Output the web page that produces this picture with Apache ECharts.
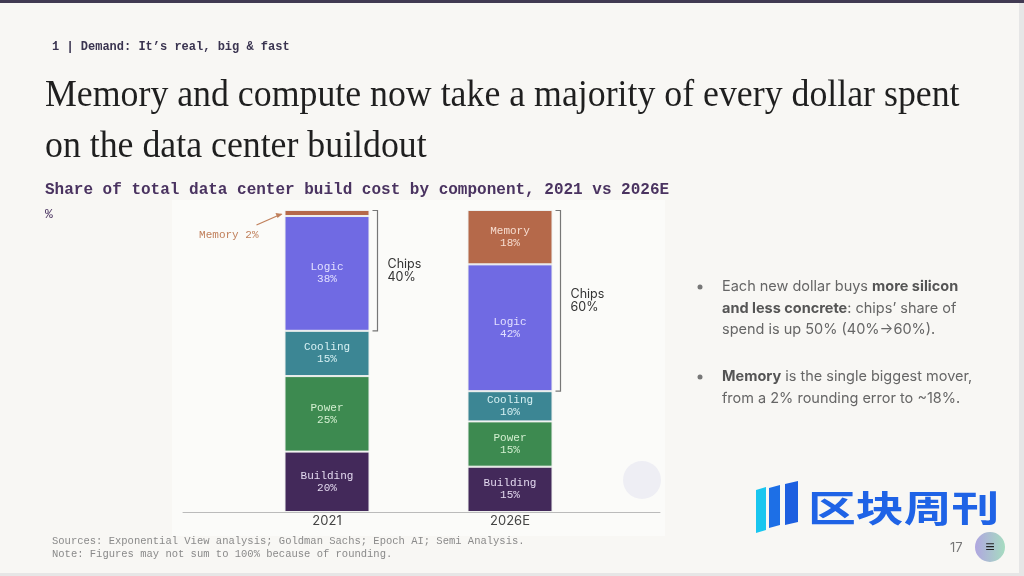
<!DOCTYPE html>
<html>
<head>
<meta charset="utf-8">
<script src="https://cdn.jsdelivr.net/npm/echarts@6/dist/echarts.min.js"></script>
<style>
  html, body { margin: 0; padding: 0; background: #e6e6e6; }
  #main { width: 1024px; height: 576px; }
</style>
</head>
<body>
<div id="main"></div>
<script>
/* 数据 */
var categories = ['2021', '2026E'];
var building = [20, 15];
var power = [25, 15];
var cooling = [15, 10];
var logic = [38, 42];
var memory = [2, 18];
var chipsShare = [40, 60];

var MONO = '"Liberation Mono", "DejaVu Sans Mono", monospace';
var SANS = 'Inter, "Noto Sans", sans-serif';
var BAR_W = 85;

function segLabel(name, color, hideIdx) {
    return {
        show: true,
        color: color,
        fontFamily: MONO,
        fontSize: 11,
        lineHeight: 12,
        formatter: function (p) {
            if (hideIdx !== undefined && p.dataIndex === hideIdx) return '';
            return name + '\n' + p.value + '%';
        }
    };
}

function makeSeries(name, data, color, labelColor, hideIdx) {
    return {
        name: name,
        type: 'bar',
        stack: 'total',
        barWidth: BAR_W,
        data: data,
        itemStyle: { color: color, borderColor: '#eef0ee', borderWidth: 1 },
        label: segLabel(name, labelColor, hideIdx),
        silent: true
    };
}

/* 右侧说明文字的样式 */
var bulletRich = {
    n: { fontFamily: SANS, fontSize: 14.5, fill: '#666', color: '#666', lineHeight: 21.5 },
    b: { fontFamily: SANS, fontSize: 14.5, fontWeight: 'bold', fill: '#555', color: '#555', lineHeight: 21.5 }
};

function buildChart() {
    var myChart = echarts.init(document.getElementById('main'));

    var option = {
        animation: false,
        backgroundColor: '#e6e6e6',
        grid: [
            { left: 235.5, width: 366, top: 210, height: 302 },
            { left: 183, width: 477, top: 210, height: 302 }
        ],
        xAxis: [{
            type: 'category',
            gridIndex: 0,
            data: categories,
            axisLine: { show: false },
            axisTick: { show: false },
            axisLabel: { color: '#444', fontFamily: SANS, fontSize: 13, margin: 3 }
        }, {
            type: 'category',
            gridIndex: 1,
            data: [''],
            axisLine: { lineStyle: { color: '#bbbbbb', width: 1 } },
            axisTick: { show: false },
            axisLabel: { show: false }
        }],
        yAxis: [
            { type: 'value', gridIndex: 0, min: 0, max: 100, show: false },
            { type: 'value', gridIndex: 1, min: 0, max: 100, show: false }
        ],
        series: [
            makeSeries('Building', building, '#43295a', '#e2d8ee'),
            makeSeries('Power', power, '#3d8a50', '#d3efd0'),
            makeSeries('Cooling', cooling, '#3c8694', '#d6f0f3'),
            makeSeries('Logic', logic, '#706ae3', '#e2e0ff'),
            makeSeries('Memory', memory, '#b5694a', '#f7ddd0', 0)
        ]
    };

    /* 背景和文字 */
    var graphics = [
        { type: 'rect', z: -10, shape: { x: 0, y: 0, width: 1019, height: 573 }, style: { fill: '#f8f7f4' } },
        { type: 'rect', z: -9, shape: { x: 0, y: 0, width: 1024, height: 3 }, style: { fill: '#413a52' } },
        { type: 'rect', z: -9, shape: { x: 172, y: 200, width: 493, height: 336 }, style: { fill: '#fbfbf9' } },
        { type: 'text', x: 52, y: 47, style: { text: '1 | Demand: It\u2019s real, big & fast', font: 'bold 12px ' + MONO, fill: '#3a3450', verticalAlign: 'middle' } },
        { type: 'text', x: 45, y: 95.6, scaleX: 0.942, style: { text: 'Memory and compute now take a majority of every dollar spent', font: '38px "Liberation Serif", serif', fill: '#1f1f1f', verticalAlign: 'middle' } },
        { type: 'text', x: 45, y: 146.6, scaleX: 0.942, style: { text: 'on the data center buildout', font: '38px "Liberation Serif", serif', fill: '#1f1f1f', verticalAlign: 'middle' } },
        { type: 'text', x: 45, y: 190, style: { text: 'Share of total data center build cost by component, 2021 vs 2026E', font: 'bold 16px ' + MONO, fill: '#4a3360', verticalAlign: 'middle' } },
        { type: 'text', x: 45, y: 215, style: { text: '%', font: '13px ' + MONO, fill: '#4a3360', verticalAlign: 'middle' } },
        { type: 'text', x: 52, y: 541, style: { text: 'Sources: Exponential View analysis; Goldman Sachs; Epoch AI; Semi Analysis.', font: '10.5px ' + MONO, fill: '#8a8a8a', verticalAlign: 'middle' } },
        { type: 'text', x: 52, y: 554, style: { text: 'Note: Figures may not sum to 100% because of rounding.', font: '10.5px ' + MONO, fill: '#8a8a8a', verticalAlign: 'middle' } },
        { type: 'circle', shape: { cx: 700, cy: 287, r: 2.5 }, style: { fill: '#777' } },
        { type: 'circle', shape: { cx: 700, cy: 377, r: 2.5 }, style: { fill: '#777' } },
        {
            type: 'text', x: 722, y: 276,
            style: {
                text: '{n|Each new dollar buys }{b|more silicon}\n{b|and less concrete}{n|: chips\u2019 share of}\n{n|spend is up 50% (40%\u219260%).}',
                verticalAlign: 'top',
                rich: bulletRich
            }
        },
        {
            type: 'text', x: 722, y: 366,
            style: {
                text: '{b|Memory}{n| is the single biggest mover,}\n{n|from a 2% rounding error to ~18%.}',
                verticalAlign: 'top',
                rich: bulletRich
            }
        },
        /* 水印 */
        { type: 'circle', shape: { cx: 642, cy: 480, r: 19 }, style: { fill: '#eeeef4' } },
        { type: 'polygon', shape: { points: [[756, 490], [766, 487], [766, 530], [756, 533]] }, style: { fill: '#19c6ef' } },
        { type: 'polygon', shape: { points: [[769, 488], [780, 485], [780, 525], [769, 528]] }, style: { fill: '#1d6fe6' } },
        { type: 'polygon', shape: { points: [[785, 484], [798, 481], [798, 522], [785, 525]] }, style: { fill: '#1d5fe0' } },
        { type: 'text', x: 808, y: 508, originX: 0, originY: 0, scaleX: 1.04, scaleY: 0.8, style: { text: '区块周刊', font: 'bold 46px "Noto Sans CJK SC", sans-serif', fill: '#1f63e6', verticalAlign: 'middle' } },
        { type: 'text', x: 950, y: 548, style: { text: '17', font: '13px ' + SANS, fill: '#777', verticalAlign: 'middle' } },
        { type: 'circle', shape: { cx: 990, cy: 547, r: 15 }, style: { fill: new echarts.graphic.LinearGradient(0, 0, 1, 0, [{ offset: 0, color: '#b0a6e0' }, { offset: 1, color: '#a6dcc0' }]) } },
        { type: 'text', x: 990, y: 547, style: { text: '\u2261', font: 'bold 16px ' + SANS, fill: '#222', align: 'center', verticalAlign: 'middle' } }
    ];

    option.graphic = graphics;
    myChart.setOption(option);

    /* 括号和注释：用坐标换算 */
    var extra = [];
    for (var i = 0; i < categories.length; i++) {
        var baseVal = building[i] + power[i] + cooling[i];
        var topVal = baseVal + logic[i] + memory[i];
        var pTop = myChart.convertToPixel({ xAxisIndex: 0, yAxisIndex: 0 }, [i, topVal]);
        var pBot = myChart.convertToPixel({ xAxisIndex: 0, yAxisIndex: 0 }, [i, baseVal]);
        var bx = pTop[0] + BAR_W / 2 + 8;
        extra.push({
            type: 'polyline',
            shape: { points: [[bx - 5, pTop[1] + 0.5], [bx, pTop[1] + 0.5], [bx, pBot[1]], [bx - 5, pBot[1]]] },
            style: { stroke: '#777', lineWidth: 1.2, fill: null }
        });
        extra.push({
            type: 'text', x: bx + 10, y: (pTop[1] + pBot[1]) / 2,
            style: { text: 'Chips\n' + chipsShare[i] + '%', font: '12.5px ' + SANS, fill: '#333', lineHeight: 13, verticalAlign: 'middle' }
        });
    }
    /* 2021 Memory 标注 */
    var pm = myChart.convertToPixel({ xAxisIndex: 0, yAxisIndex: 0 }, [0, building[0] + power[0] + cooling[0] + logic[0] + memory[0] / 2]);
    var ax = pm[0] - BAR_W / 2 - 3, ay = pm[1] + 1;
    extra.push({
        type: 'line',
        shape: { x1: ax - 25, y1: ay + 11, x2: ax, y2: ay },
        style: { stroke: '#c0805c', lineWidth: 1.3 }
    });
    extra.push({
        type: 'polygon',
        shape: { points: [[ax + 1, ay], [ax - 6, ay - 1], [ax - 4, ay + 4]] },
        style: { fill: '#c0805c' }
    });
    extra.push({
        type: 'text', x: ax - 23, y: ay + 21,
        style: { text: 'Memory ' + memory[0] + '%', font: '11px ' + MONO, fill: '#c0805c', align: 'right', verticalAlign: 'middle' }
    });

    myChart.setOption({ graphic: graphics.concat(extra) });
    window.addEventListener('resize', function () {
        myChart.resize();
    });
}

buildChart();
</script>
</body>
</html>
